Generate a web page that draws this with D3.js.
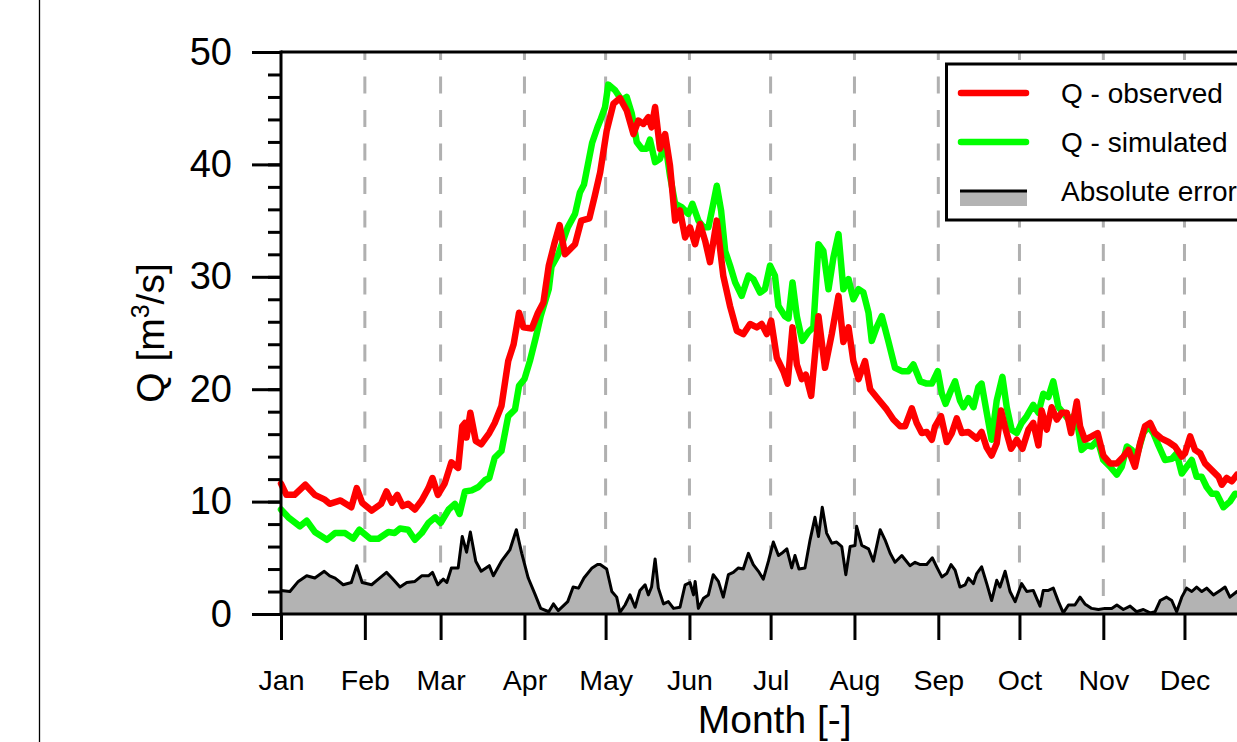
<!DOCTYPE html>
<html>
<head>
<meta charset="utf-8">
<script src="https://cdn.jsdelivr.net/npm/d3@7"></script>
<style>
  html, body { margin: 0; padding: 0; background: #fff; overflow: hidden; }
  svg { display: block; font-family: "Liberation Sans", Arial, Helvetica, sans-serif; }
</style>
</head>
<body>
<svg id="chart" width="1237" height="742"></svg>
<script>
// Daily discharge, day of year (0 = 1 Jan) and Q in m3/s
const observed = [
  [0,11.6],[2,10.6],[5,10.6],[9,11.5],[12.5,10.6],[16,10.2],[18,9.8],[22,10.1],[26,9.5],[28,11.2],
  [30,9.9],[33.5,9.2],[37,9.8],[39,10.9],[41,9.9],[43,10.6],[45,9.6],[47,9.8],[49.5,9.3],[52,10.1],
  [54.5,11.2],[56,12.1],[58,10.6],[60.5,11.6],[63,13.5],[65.5,13.0],[67,16.7],[68,17.0],[68.6,15.7],[70,17.9],
  [72,15.4],[74,15.1],[77,16.1],[79,17.0],[81.5,18.5],[84,22.5],[86,24.0],[88,26.8],[89.6,25.5],[92.7,25.4],
  [95,26.8],[97,27.7],[99,31.0],[101,32.9],[103,34.6],[105,32.0],[108.7,32.9],[111,35.0],[114,35.2],[116,37.2],
  [118,39.3],[120.4,43.0],[122.9,45.4],[125.3,45.9],[127.8,44.8],[130.3,42.7],[132.1,43.9],[134,43.6],[135.8,44.2],[137,43.3],
  [138.3,45.1],[140.1,41.4],[142,42.7],[143.8,39.9],[145.7,35.0],[147.5,35.9],[149.4,33.5],[151.2,34.4],[153.1,32.9],[154.9,34.7],
  [156.8,33.2],[158.6,31.3],[161.1,35.0],[163.5,30.1],[166,27.4],[168.5,25.2],[170.9,24.9],[173.4,25.8],[175.9,25.5],[177.7,25.8],
  [179.6,24.9],[181.2,26.1],[183.3,22.8],[185.7,21.6],[187.3,20.5],[189.1,25.5],[190.7,22.2],[192.5,20.9],[194,21.3],[196,19.4],
  [198.7,26.5],[201.1,21.9],[203.6,24.9],[206.1,28.3],[207.9,24.2],[209.8,25.5],[211.6,22.5],[213.5,20.9],[215.9,22.5],[217.8,20.0],
  [220.8,19.1],[223.9,18.2],[226.4,17.3],[228.9,16.7],[230.7,16.7],[233.2,18.3],[235,17.0],[236.9,16.1],[238.7,16.2],[240.6,15.5],
  [241.8,16.7],[244,17.6],[246.1,15.3],[248,16.1],[249.8,17.4],[251.7,16.1],[254.1,16.2],[257.2,15.6],[259,16.2],[260.9,14.8],
  [262.7,14.1],[264.6,15.2],[266.2,18.1],[267.9,16.4],[269.9,14.7],[272,15.5],[274.1,14.7],[276.3,16.4],[278.1,17.0],[280,15.0],
  [281.2,18.1],[283.1,16.4],[284.9,18.4],[286.8,17.3],[288.6,17.9],[290.5,17.9],[292.1,16.1],[294.2,18.9],[295.4,16.7],[297.2,15.5],
  [299.7,15.8],[301.9,16.1],[304,14.1],[306.5,13.4],[309,13.4],[311.4,14.0],[313.3,14.6],[315.7,13.1],[317.6,15.2],[319.4,16.7],
  [321.3,17.0],[323.1,16.1],[325.6,15.6],[328.1,15.3],[330.5,14.9],[333,14.0],[334.2,14.3],[336.1,15.8],[337.9,14.6],[339.8,14.3],
  [341.6,13.4],[344.1,12.8],[346.6,12.2],[347.8,11.5],[349.6,12.1],[351.5,11.8],[353.4,12.4],[357,12.2],[361,12.6],[364,12.3]
];

const simulated = [
  [0,9.3],[2.7,8.6],[7,7.8],[9.5,8.3],[12.5,7.3],[17,6.6],[20,7.2],[23.7,7.2],[26.7,6.7],[29,7.5],
  [33,6.7],[36,6.7],[39.7,7.3],[42,7.2],[44,7.6],[47,7.5],[49.5,6.6],[52,7.2],[54.5,8.1],[57,8.6],
  [59,8.1],[62,9.3],[64.3,9.8],[66,8.9],[68,10.9],[70.5,11.0],[73,11.3],[75.4,11.9],[77,12.1],[79,13.9],
  [81.5,14.5],[84,17.6],[86.5,18.2],[88,20.3],[90,20.9],[92,22.5],[94.5,24.9],[96,26.5],[99,28.9],[100,30.9],
  [102.5,32.0],[106,34.4],[108.7,35.6],[110.5,37.5],[112,38.2],[115,41.9],[117,43.3],[118,43.9],[119.8,45.1],[121,47.1],
  [123.5,46.6],[126,45.7],[127.8,46.0],[129.7,44.5],[131.5,42.0],[133.4,41.4],[135.2,41.4],[136.4,42.2],[138.3,40.2],[140.1,40.5],
  [142,42.0],[143.8,39.0],[145.7,36.5],[148.1,36.2],[150.6,35.6],[152.1,36.5],[154.3,35.0],[156.2,34.4],[158,34.4],[159.8,36.5],
  [161.1,38.1],[162.7,35.9],[164.2,32.3],[166,31.0],[167.9,29.5],[170.3,28.3],[172.8,30.1],[174.6,29.8],[177.1,28.6],[178.9,28.9],
  [180.8,31.0],[182.6,30.1],[183.9,27.4],[186.3,26.5],[187.6,26.3],[189.1,29.5],[190.7,26.5],[192.7,24.3],[195,25.1],[196.8,25.5],
  [198.7,32.9],[200.5,32.3],[202.4,28.9],[204.2,31.7],[206.1,33.8],[207.9,28.9],[209.8,29.8],[211.6,28.0],[213.5,28.9],[215.3,28.6],
  [217.2,26.8],[218.4,24.3],[220.2,25.5],[222.1,26.5],[224.5,24.3],[227,21.9],[229.5,21.6],[231.9,21.6],[233.8,22.2],[236.3,20.7],
  [238.7,20.5],[240.6,20.5],[242.8,21.6],[244.3,19.6],[245.7,18.7],[247.7,19.9],[249.2,20.7],[251,19.0],[252.3,18.4],[254.1,19.2],
  [256,18.4],[257.8,20.2],[259,20.5],[260.9,17.9],[262.7,15.5],[264.6,19.0],[266.7,21.1],[268.3,18.4],[270.1,16.4],[272,16.1],
  [273.8,17.0],[275.7,17.6],[278.1,18.6],[280,17.9],[281.8,19.6],[283.7,19.3],[285.5,20.7],[287.4,18.4],[289.2,17.9],[291.1,17.3],
  [292.9,17.6],[294.8,16.4],[296,14.6],[297.9,15.0],[299.7,14.9],[301.9,15.5],[304,13.7],[306.5,13.1],[309,12.4],[310.8,13.1],
  [312.7,14.9],[314.5,14.6],[316.3,14.0],[318.8,16.1],[320.7,16.7],[322.5,16.1],[324.4,15.0],[326.8,13.7],[329.3,13.8],[331.1,14.3],
  [333,12.5],[334.8,13.1],[336.7,13.7],[338.5,12.2],[340.4,12.2],[342.2,11.3],[344.1,10.7],[345.9,10.7],[348.4,9.5],[350.8,10.0],
  [352.7,10.7],[356,10.5],[360,10.9],[364,10.6]
];

const absError = [
  [0,2.1],[3.3,2.0],[6.4,2.9],[9.5,3.4],[12.5,3.2],[16,3.8],[18,3.4],[20,3.2],[23,2.6],[26,2.8],
  [28,4.3],[30,2.8],[33.5,2.6],[36,3.1],[39,3.7],[41,3.2],[44,2.4],[46.5,2.8],[49.5,2.9],[52,3.4],
  [54.5,3.4],[56,3.7],[58,2.6],[60,3.1],[61.3,2.8],[63,4.1],[65.5,4.1],[67,6.9],[68.6,5.5],[70,7.3],
  [72,4.7],[74,3.8],[77,4.3],[78.5,3.4],[81.5,4.7],[84.6,5.7],[87,7.5],[89,5.4],[91.4,3.2],[94,1.7],
  [96,0.5],[99,0.2],[100.7,0.9],[102.5,0.3],[106,1.1],[108,2.4],[110,2.3],[112,3.2],[115,4.1],[117,4.4],
  [118,4.4],[120.4,4.0],[122.3,2.0],[124.1,1.5],[125.3,0.15],[127.2,0.8],[129,1.7],[130.9,0.6],[132.7,2.1],[134.6,2.6],
  [135.8,1.7],[137,2.4],[138.3,4.9],[139.5,2.3],[141.4,0.9],[143.2,1.1],[145.1,0.5],[147.5,0.6],[149.4,2.6],[151.2,2.8],
  [152.5,1.7],[153.1,2.9],[154.3,0.5],[156.2,1.4],[158,1.7],[159.8,3.5],[161.7,2.9],[163.5,1.5],[165.4,3.5],[167.2,3.7],
  [169.1,4.1],[170.9,4.0],[172.8,5.4],[174.6,4.4],[176.5,3.8],[178.3,3.1],[180.2,4.7],[182,6.4],[183.9,5.2],[185.1,5.4],
  [187,5.8],[188.8,4.1],[190,5.2],[191.5,4.0],[193.7,4.1],[195.6,6.6],[197.4,8.6],[198.7,6.9],[200.1,9.5],[201.7,7.2],
  [203.6,6.3],[205.4,6.4],[207.3,6.0],[208.8,3.5],[210.4,6.0],[212.2,6.1],[212.8,7.8],[214.7,6.1],[217.2,5.8],[219,4.7],
  [221.5,7.5],[223.3,6.6],[225.2,5.4],[227,4.6],[229.5,5.2],[232.5,4.3],[234.4,4.6],[236.3,4.4],[238.7,4.4],[240.8,5.0],
  [242.4,4.2],[244.3,3.3],[246.1,3.6],[247.7,4.4],[249.2,3.9],[251,2.4],[252.9,2.6],[254.1,3.2],[256,2.7],[257.2,3.6],
  [259,4.2],[260.9,2.7],[262.7,1.2],[264.6,3.0],[265.8,2.4],[267.7,3.8],[269.5,2.0],[271.4,1.1],[273.8,2.7],[275.7,2.0],
  [278.1,2.1],[280.6,0.7],[281.8,2.1],[283.7,2.1],[285.5,2.3],[287.4,1.1],[289.2,0.1],[291.1,0.8],[293.5,0.8],[295.4,1.5],
  [297.2,0.9],[299.7,0.5],[302.2,0.4],[304.6,0.5],[307.1,0.5],[309,0.8],[311.4,0.4],[313.9,0.7],[316.3,0.2],[318.8,0.4],
  [321.3,0.1],[323.1,0.2],[325,1.2],[327.4,1.5],[329.3,1.2],[331.1,0.2],[333,1.5],[334.8,2.3],[336.7,2.0],[338.5,2.4],
  [340.4,2.0],[342.2,2.3],[344.7,1.7],[347.2,2.1],[349,2.4],[350.8,1.5],[353.4,2.0],[357,1.8],[361,1.9],[364,1.7]
];

const monthStarts = [0, 31, 59, 90, 120, 151, 181, 212, 243, 273, 304, 334];
const monthLabels = ["Jan","Feb","Mar","Apr","May","Jun","Jul","Aug","Sep","Oct","Nov","Dec"];
const yMajorTicks = [0, 10, 20, 30, 40, 50];
const yMinorTicks = d3.range(0, 51, 2);
const legendItems = ["Q - observed", "Q - simulated", "Absolute error"];

const svg = d3.select("#chart");
const plot = { left: 281, top: 52, bottom: 614, right: 281 + 365 * 2.705 };

const x = d3.scaleLinear().domain([0, 365]).range([plot.left, plot.right]);
const y = d3.scaleLinear().domain([0, 50]).range([plot.bottom, plot.top]);

// page frame line on the left
svg.append("line")
  .attr("x1", 39.5).attr("x2", 39.5).attr("y1", 0).attr("y2", 742)
  .attr("stroke", "#000").attr("stroke-width", 1.3);

// dashed month grid
svg.append("g").selectAll("line")
  .data(monthStarts.slice(1))
  .join("line")
  .attr("x1", d => x(d)).attr("x2", d => x(d))
  .attr("y1", plot.top).attr("y2", plot.bottom)
  .attr("stroke", "#b0b0b0").attr("stroke-width", 3)
  .attr("stroke-dasharray", "17,16.5").attr("stroke-dashoffset", 9);

// absolute error as filled area with outline
const errArea = d3.area().x(d => x(d[0])).y0(y(0)).y1(d => y(d[1]));
const errLine = d3.line().x(d => x(d[0])).y(d => y(d[1]));
svg.append("path").datum(absError).attr("d", errArea).attr("fill", "#b3b3b3");
svg.append("path").datum(absError).attr("d", errLine)
  .attr("fill", "none").attr("stroke", "#000").attr("stroke-width", 3)
  .attr("stroke-linejoin", "round");

// simulated and observed discharge
const qLine = d3.line().x(d => x(d[0])).y(d => y(d[1]));
svg.append("path").datum(simulated).attr("d", qLine)
  .attr("fill", "none").attr("stroke", "#00ff00").attr("stroke-width", 6.5)
  .attr("stroke-linejoin", "round").attr("stroke-linecap", "round");
svg.append("path").datum(observed).attr("d", qLine)
  .attr("fill", "none").attr("stroke", "#ff0000").attr("stroke-width", 6.5)
  .attr("stroke-linejoin", "round").attr("stroke-linecap", "round");

// axes
const yMinor = svg.append("g").attr("transform", `translate(${plot.left},0)`)
  .call(d3.axisLeft(y).tickValues(yMinorTicks).tickSize(13).tickFormat(""));
const yMajor = svg.append("g").attr("transform", `translate(${plot.left},0)`)
  .call(d3.axisLeft(y).tickValues(yMajorTicks).tickSize(29).tickPadding(20));
const xAxis = svg.append("g").attr("transform", `translate(0,${plot.bottom})`)
  .call(d3.axisBottom(x).tickValues(monthStarts).tickSize(26).tickPadding(30)
    .tickFormat((d, i) => monthLabels[i]));

[yMinor, yMajor, xAxis].forEach(g => {
  g.select(".domain").remove();
  g.selectAll(".tick line").attr("stroke", "#000").attr("stroke-width", 3);
});
yMajor.selectAll(".tick text").attr("font-size", 38).attr("fill", "#000")
  .attr("font-family", "Liberation Sans, Arial, sans-serif");
xAxis.selectAll(".tick text").attr("font-size", 28.5).attr("fill", "#000")
  .attr("font-family", "Liberation Sans, Arial, sans-serif");

// plot frame
const frame = svg.append("g").attr("stroke", "#000").attr("stroke-width", 3).attr("fill", "none");
frame.append("line").attr("x1", plot.left).attr("x2", plot.left).attr("y1", plot.top - 1.5).attr("y2", plot.bottom + 1.5);
frame.append("line").attr("x1", plot.left).attr("x2", plot.right).attr("y1", plot.bottom).attr("y2", plot.bottom);
frame.append("line").attr("x1", plot.left).attr("x2", plot.right).attr("y1", plot.top).attr("y2", plot.top);
frame.append("line").attr("x1", plot.right).attr("x2", plot.right).attr("y1", plot.top).attr("y2", plot.bottom);

// axis titles
svg.append("text")
  .attr("x", (plot.left + plot.right) / 2).attr("y", 733)
  .attr("text-anchor", "middle").attr("font-size", 39).attr("fill", "#000")
  .text("Month [-]");
const yTitle = svg.append("text")
  .attr("transform", "translate(164,333) rotate(-90)")
  .attr("text-anchor", "middle").attr("font-size", 39).attr("fill", "#000");
yTitle.append("tspan").text("Q [m");
yTitle.append("tspan").attr("font-size", 25).attr("dy", -15).text("3");
yTitle.append("tspan").attr("dy", 15).text("/s]");

// legend
const legend = svg.append("g");
legend.append("rect")
  .attr("x", 946.5).attr("y", 64).attr("width", 400).attr("height", 156)
  .attr("fill", "#fff").attr("stroke", "#000").attr("stroke-width", 3);
const rowY = [93, 142, 191];
legend.append("line").attr("x1", 961).attr("x2", 1026).attr("y1", rowY[0]).attr("y2", rowY[0])
  .attr("stroke", "#ff0000").attr("stroke-width", 6.5).attr("stroke-linecap", "round");
legend.append("line").attr("x1", 961).attr("x2", 1026).attr("y1", rowY[1]).attr("y2", rowY[1])
  .attr("stroke", "#00ff00").attr("stroke-width", 6.5).attr("stroke-linecap", "round");
legend.append("rect").attr("x", 960).attr("y", rowY[2]).attr("width", 67).attr("height", 15)
  .attr("fill", "#b3b3b3");
legend.append("line").attr("x1", 960).attr("x2", 1027).attr("y1", rowY[2]).attr("y2", rowY[2])
  .attr("stroke", "#000").attr("stroke-width", 3);
legend.selectAll("text.lab").data(legendItems).join("text")
  .attr("class", "lab")
  .attr("x", 1061).attr("y", (d, i) => rowY[i] + 10)
  .attr("font-size", 28).attr("fill", "#000")
  .text(d => d);
</script>
</body>
</html>
